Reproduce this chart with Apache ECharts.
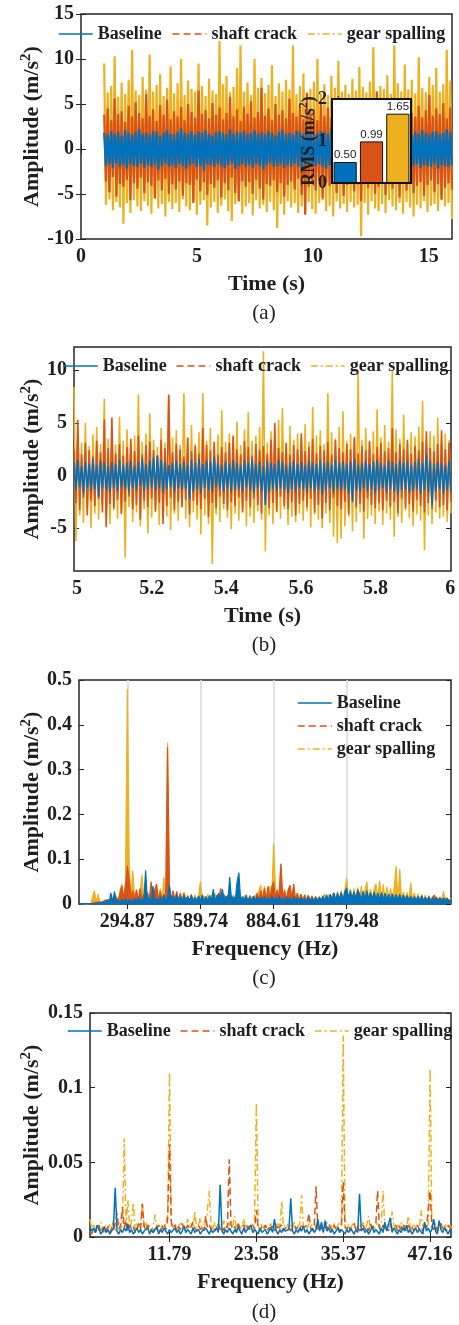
<!DOCTYPE html>
<html><head><meta charset="utf-8">
<script src="https://cdn.jsdelivr.net/npm/echarts/dist/echarts.min.js"></script>
<style>html,body{margin:0;padding:0;background:#fff}#c{width:459px;height:1325px}</style>
</head><body><div id="c"></div>
<script>
const seriesNames = ['Baseline', 'shaft crack', 'gear spalling'];
const colors = ['#0072BD', '#D95319', '#EDB120'];

// ---------- (a) time signal, 1..16 s : upper / lower excursions ----------
const aTimeRange = [1, 16];
const aXTicks = [0, 5, 10, 15];
const aBlueHi = [1.8,1.6,2.0,1.7,1.9,1.5,2.1,1.8,1.6,1.9, 2.2,1.7,1.8,1.6,2.0,1.9,1.5,1.8,2.1,1.7, 1.6,1.9,2.3,1.8,1.7,2.0,1.6,1.9,1.8,2.1, 1.7,1.5,1.9,2.0,1.8,1.6,2.2,1.7,1.9,1.8, 2.0,1.6,1.8,2.1,1.7,1.9,1.6,2.0,1.8,1.5, 1.9,2.2,1.7,1.8,1.6,2.0,1.9,1.7,2.1,1.8, 1.6,1.8,2.0,1.9,1.7,2.3,1.8,1.6,1.9,2.0, 1.8,1.7,1.5,2.0,1.9,1.8,2.1,1.6,1.7,1.9, 2.0,1.8,1.6,1.9,2.2,1.7,1.8,2.0,1.6,1.9, 1.7,2.1,1.8,1.6,1.9,2.0,1.7,1.8,2.2,1.9];
const aBlueLo = [-1.9,-1.7,-2.1,-1.6,-2.0,-1.8,-2.2,-1.7,-1.9,-2.0, -1.6,-2.1,-1.8,-2.0,-1.7,-2.3,-1.9,-1.6,-2.0,-1.8, -2.1,-1.7,-1.9,-2.2,-1.8,-1.6,-2.0,-1.9,-2.4,-1.7, -1.8,-2.0,-1.7,-1.9,-2.1,-1.8,-1.6,-2.2,-1.9,-1.7, -2.0,-1.8,-2.1,-1.7,-1.9,-2.3,-1.8,-1.6,-2.0,-1.9, -1.7,-2.1,-1.8,-2.0,-1.6,-1.9,-2.2,-1.8,-1.7,-2.0, -1.9,-1.7,-2.0,-2.2,-1.8,-1.6,-2.1,-1.9,-1.8,-2.3, -2.0,-1.8,-1.7,-1.9,-2.1,-1.8,-2.0,-1.6,-1.9,-2.2, -1.8,-2.0,-1.9,-1.7,-2.1,-1.8,-1.6,-2.0,-1.9,-1.7, -2.1,-1.8,-1.9,-2.0,-1.7,-2.2,-1.8,-1.9,-2.0,-1.8];
const aRedHi = [3.8,4.5,3.2,5.6,3.9,4.2,3.0,4.8,3.6,5.2, 4.0,3.4,6.1,3.7,4.4,3.1,4.9,3.8,5.5,3.3, 4.2,3.6,4.7,3.2,5.0,4.1,3.5,6.5,3.9,4.3, 3.4,5.1,3.8,4.6,3.3,4.0,5.8,3.6,4.4,3.1, 4.7,3.9,5.3,3.5,4.1,6.8,3.7,4.5,3.2,5.0, 3.8,4.3,3.4,5.6,4.0,3.6,4.8,3.3,6.2,3.9, 4.4,3.2,5.1,3.7,4.6,3.5,4.2,5.9,3.8,4.1, 3.3,4.9,3.6,4.3,5.4,3.4,4.0,3.7,6.4,4.2, 3.9,4.6,3.1,5.2,3.8,4.4,3.5,5.7,4.0,3.6, 4.8,3.5,4.3,6.0,3.7,4.5,3.9,5.1,3.4,4.6];
const aRedLo = [-3.6,-4.8,-3.1,-5.3,-3.9,-4.2,-3.4,-5.7,-3.8,-4.4, -3.2,-4.9,-3.7,-4.1,-5.5,-3.5,-4.6,-3.3,-5.0,-3.9, -4.5,-3.6,-5.2,-3.8,-4.0,-6.0,-3.4,-4.7,-3.7,-5.1, -3.9,-4.3,-3.5,-5.4,-3.8,-4.6,-3.2,-4.9,-5.8,-3.6, -4.2,-3.7,-5.0,-3.4,-4.4,-5.6,-3.9,-4.1,-3.5,-4.8, -3.8,-5.3,-4.0,-3.6,-4.5,-3.3,-5.1,-7.3,-4.2,-3.9, -4.6,-3.5,-5.5,-3.8,-4.1,-3.4,-4.9,-3.7,-5.2,-4.0, -3.6,-4.7,-3.9,-5.8,-3.5,-4.3,-3.8,-5.0,-4.2,-3.4, -5.1,-3.9,-4.4,-3.6,-5.4,-3.8,-4.6,-3.3,-4.9,-4.1, -3.7,-5.2,-4.0,-3.5,-4.8,-3.9,-5.6,-4.3,-3.8,-4.5];
const aGoldHi = [9.5,6.3,7.0,10.3,5.8,7.4,6.1,7.7,11.0,6.5, 6.0,8.0,6.6,10.5,6.4,7.1,8.3,5.9,6.8,9.2, 6.2,7.3,10.0,6.0,7.6,6.7,6.4,9.5,7.0,5.9, 7.8,6.5,6.1,12.0,7.2,8.1,6.3,6.9,9.0,11.5, 6.4,7.4,6.0,10.0,6.8,7.9,6.2,7.1,9.3,5.9, 7.3,6.4,7.7,6.6,11.5,6.1,7.0,8.4,6.3,6.7, 7.5,10.0,6.2,7.2,6.0,8.1,6.8,9.8,6.4,7.1, 6.1,7.8,6.5,9.1,6.9,6.3,7.5,11.3,6.4,7.0, 6.7,8.2,6.1,11.5,7.3,6.4,9.4,6.6,7.7,6.2, 10.2,6.8,6.3,8.0,7.1,9.0,6.4,7.2,11.0,7.6];
const aGoldLo = [-6.2,-5.6,-6.8,-5.9,-6.5,-8.3,-6.0,-7.1,-5.7,-6.4, -6.9,-5.8,-6.3,-7.2,-5.5,-6.6,-6.1,-7.5,-5.9,-6.7, -6.0,-7.0,-5.6,-6.4,-6.8,-5.8,-7.3,-6.2,-5.7,-8.5, -6.5,-5.9,-7.1,-6.3,-5.6,-6.9,-8.0,-6.1,-5.8,-7.2, -6.4,-6.0,-7.4,-5.7,-6.6,-6.2,-7.0,-5.9,-6.8,-8.8, -6.1,-7.3,-5.8,-6.5,-6.0,-7.1,-6.4,-7.0,-5.9,-6.7, -7.2,-6.0,-5.7,-6.9,-6.3,-7.5,-5.8,-6.6,-6.1,-7.0, -5.9,-6.5,-6.2,-9.7,-6.0,-7.3,-5.8,-6.6,-6.9,-6.1, -7.1,-5.7,-6.4,-6.8,-6.0,-7.2,-5.9,-6.5,-7.5,-6.2, -6.6,-5.8,-7.0,-6.3,-6.1,-6.9,-5.7,-6.4,-6.0,-7.8];
const rmsValues = [0.50, 0.99, 1.65];

// ---------- (b) zoom 5..6 s ----------
const bTimeRange = [4.992, 6.002];
const bXTicks = [5, 5.2, 5.4, 5.6, 5.8, 6];
const bYTicks = [-5, 0, 5, 10];
const bBlueHi = [1.2,1.5,0.9,1.3,1.1,1.6,1.0,1.4,1.2,0.9, 1.3,1.1,1.5,1.0,1.2,1.4,0.9,1.3,1.6,1.1, 1.4,1.7,1.9,1.5,1.3,1.0,1.2,1.4,1.1,1.3, 1.0,1.5,1.2,1.6,1.1,1.4,1.3,1.8,1.2,1.0, 1.3,1.1,1.5,1.2,1.0,1.4,1.2,1.6,1.1,1.3, 0.9,1.4,1.2,1.1,1.5,1.3,1.0,1.2,1.4,1.1, 1.3,1.0,1.5,1.2,1.1,1.4,1.2,1.3,1.0,1.5, 1.2,1.4,1.1,1.3,1.6,1.0,1.2,1.4,1.1,1.3, 1.5,1.2,1.0,1.4,1.3,1.1,1.5,1.2,1.4,1.0, 1.3,1.6,1.2,2.0,1.4,1.1,1.3,1.2,1.0,1.4];
const bBlueLo = [-1.4,-1.1,-1.7,-1.2,-1.5,-1.3,-2.0,-1.2,-1.4,-1.6, -1.2,-1.5,-1.1,-1.3,-1.6,-1.2,-1.4,-1.0,-1.5,-1.3, -1.1,-1.4,-1.2,-1.6,-1.3,-1.1,-1.5,-1.2,-1.4,-1.3, -2.2,-1.5,-1.3,-1.7,-1.2,-1.4,-1.6,-1.1,-1.3,-1.5, -1.2,-1.6,-1.4,-1.3,-1.5,-1.1,-1.4,-1.7,-1.2,-1.5, -2.8,-1.6,-1.3,-1.5,-1.2,-1.4,-1.7,-1.3,-1.5,-1.2, -1.4,-1.6,-1.2,-1.5,-1.3,-1.8,-1.4,-1.2,-1.6,-1.3, -1.5,-1.3,-1.7,-2.5,-1.4,-1.6,-1.2,-1.5,-1.3,-1.7, -1.4,-1.2,-1.6,-1.3,-1.5,-1.8,-1.4,-1.3,-1.6,-1.5, -1.3,-1.7,-1.4,-1.6,-2.8,-1.5,-1.3,-1.7,-1.4,-1.6];
const bRedHi = [2.5,5.3,2.0,3.1,2.4,1.8,3.3,2.2,5.3,2.6, 5.5,2.1,3.0,1.9,2.7,3.5,2.3,3.8,2.0,2.9, 3.2,2.4,1.9,3.4,2.6,7.7,2.2,3.0,2.5,1.8, 3.6,2.3,2.8,2.1,4.5,2.9,2.4,3.2,2.0,2.7, 2.2,3.1,3.8,2.5,2.0,3.3,2.7,1.9,3.0,2.4, 2.8,2.1,3.4,5.0,2.6,2.2,3.1,2.0,2.9,2.5, 4.0,2.3,2.7,3.5,2.1,2.8,2.4,3.2,2.0,3.4, 2.6,2.2,3.0,2.5,3.6,2.1,2.8,2.4,3.3,2.0, 2.7,3.1,2.3,2.6,4.5,2.2,3.0,2.5,3.4,2.1, 2.8,2.4,3.2,4.2,2.6,2.3,3.0,4.3,2.5,3.1];
const bRedLo = [-2.6,-3.3,-2.1,-3.8,-2.4,-2.9,-2.2,-3.5,-4.9,-2.7, -3.1,-2.3,-3.6,-2.5,-2.0,-3.2,-2.8,-4.2,-2.4,-3.0, -2.2,-3.4,-2.6,-4.6,-2.9,-2.1,-3.3,-2.5,-3.0,-2.3, -3.7,-2.4,-2.8,-3.2,-2.2,-3.9,-2.6,-3.1,-2.0,-2.7, -3.3,-2.5,-2.9,-2.1,-3.5,-2.4,-3.0,-2.2,-2.8,-3.6, -2.3,-3.1,-2.6,-3.4,-2.0,-2.9,-3.2,-2.5,-3.8,-2.7, -2.4,-3.0,-2.2,-3.5,-2.8,-4.1,-2.6,-3.3,-2.1,-2.9, -3.2,-2.5,-3.7,-2.3,-3.0,-2.7,-3.4,-2.2,-2.8,-3.1, -2.6,-3.3,-2.4,-3.0,-2.5,-3.6,-2.2,-3.1,-2.7,-3.4, -2.3,-2.9,-3.5,-2.6,-3.2,-2.4,-3.0,-2.8,-3.3,-2.5];
const bGoldHi = [8.4,4.2,3.1,5.0,2.8,3.9,4.6,3.0,7.3,3.5, 4.1,2.9,5.6,3.3,4.4,3.0,3.8,7.7,3.2,4.0, 5.9,3.4,2.7,4.5,3.1,7.6,3.6,4.3,2.9,7.8, 3.5,4.8,3.0,4.1,7.8,3.3,4.5,2.8,3.9,6.2, 3.2,4.0,3.6,5.1,2.9,4.4,6.0,3.3,3.8,4.6, 11.8,3.1,4.2,3.5,5.3,6.4,3.0,4.7,3.4,4.0, 3.6,4.9,3.2,6.5,3.8,4.3,3.0,7.8,4.1,3.5, 4.6,6.1,3.3,4.0,3.7,9.8,3.4,4.5,3.1,4.2, 6.3,3.6,4.8,3.2,9.9,4.4,3.5,5.8,3.0,4.1, 3.7,4.6,7.1,3.3,4.2,3.8,5.5,3.1,4.0,3.4];
const bGoldLo = [-6.2,-3.8,-4.5,-3.1,-5.0,-3.6,-4.2,-2.9,-3.9,-4.6, -3.3,-4.1,-3.7,-7.8,-3.0,-4.4,-3.5,-4.8,-3.2,-5.5, -4.0,-3.4,-4.7,-3.1,-3.9,-5.2,-3.6,-4.3,-3.0,-4.1, -4.9,-3.5,-4.2,-5.6,-3.8,-4.6,-8.4,-3.7,-4.4,-3.2, -4.0,-5.1,-3.6,-4.3,-3.3,-4.8,-3.9,-4.5,-3.4,-4.2, -7.2,-3.8,-4.6,-3.5,-4.1,-3.2,-4.7,-3.9,-4.4,-3.6, -4.3,-3.4,-4.9,-3.7,-4.2,-5.0,-3.6,-4.5,-5.8,-6.4, -6.0,-4.8,-3.9,-5.3,-4.4,-3.5,-6.0,-4.1,-3.8,-4.6, -3.4,-4.7,-3.6,-4.2,-5.8,-3.9,-4.5,-3.3,-4.0,-4.8, -3.7,-4.3,-7.1,-3.8,-4.6,-3.5,-4.1,-3.9,-4.4,-3.6];

// ---------- (c) spectrum 100..1600 Hz, bins of 294.87/40 Hz from bin 14 ----------
const cXTicks = [294.87, 589.74, 884.61, 1179.48];
const cBinHz = 294.87 / 40, cFirstBin = 14;
const cBlue = [0.001,0.001,0.001,0.001,0.001,0.001,0.001,0.001,0.001,0.001, 0.002,0.001,0.003,0.001,0.004,0.010,0.002,0.025,0.004,0.028, 0.004,0.009,0.003,0.011,0.004,0.012,0.004,0.010,0.014,0.005, 0.012,0.004,0.015,0.005,0.012,0.006,0.075,0.006,0.014,0.005, 0.040,0.006,0.012,0.005,0.016,0.006,0.020,0.005,0.015,0.042, 0.008,0.018,0.006,0.022,0.007,0.016,0.006,0.019,0.007,0.017, 0.006,0.020,0.007,0.015,0.006,0.018,0.007,0.021,0.006,0.016, 0.007,0.019,0.006,0.033,0.007,0.015,0.024,0.007,0.033,0.008, 0.018,0.007,0.060,0.008,0.016,0.007,0.048,0.070,0.008,0.017, 0.007,0.020,0.006,0.014,0.007,0.018,0.006,0.016,0.007,0.015, 0.006,0.017,0.007,0.014,0.006,0.019,0.007,0.015,0.006,0.018, 0.007,0.013,0.006,0.017,0.007,0.014,0.006,0.016,0.007,0.013, 0.006,0.015,0.007,0.012,0.006,0.016,0.007,0.013,0.006,0.014, 0.007,0.015,0.008,0.018,0.007,0.020,0.008,0.022,0.009,0.025, 0.009,0.024,0.010,0.026,0.009,0.028,0.036,0.010,0.030,0.011, 0.028,0.010,0.032,0.033,0.010,0.029,0.011,0.030,0.010,0.026, 0.010,0.027,0.009,0.025,0.010,0.026,0.009,0.024,0.010,0.022, 0.009,0.023,0.008,0.021,0.009,0.022,0.008,0.020,0.008,0.019, 0.008,0.018,0.007,0.016,0.008,0.017,0.007,0.019,0.007,0.015, 0.007,0.016,0.006,0.014,0.007,0.015,0.006,0.014,0.006,0.013, 0.006,0.013,0.005,0.010];
const cRed = [0.000,0.000,0.000,0.000,0.000,0.000,0.000,0.001,0.003,0.001, 0.004,0.002,0.005,0.002,0.008,0.003,0.010,0.004,0.012,0.005, 0.014,0.006,0.025,0.040,0.012,0.042,0.085,0.055,0.015,0.030, 0.010,0.032,0.009,0.035,0.010,0.022,0.008,0.026,0.009,0.050, 0.009,0.032,0.045,0.009,0.028,0.010,0.022,0.009,0.350,0.038, 0.010,0.030,0.009,0.028,0.008,0.025,0.008,0.024,0.007,0.016, 0.007,0.018,0.006,0.015,0.007,0.017,0.006,0.014,0.007,0.016, 0.006,0.015,0.007,0.022,0.006,0.020,0.007,0.035,0.006,0.021, 0.007,0.020,0.006,0.018,0.007,0.016,0.006,0.014,0.007,0.015, 0.006,0.013,0.007,0.019,0.006,0.017,0.007,0.025,0.008,0.030, 0.009,0.035,0.010,0.040,0.009,0.038,0.050,0.012,0.032,0.010, 0.090,0.012,0.030,0.009,0.032,0.042,0.010,0.045,0.009,0.024, 0.008,0.022,0.007,0.020,0.008,0.019,0.007,0.018,0.007,0.017, 0.007,0.016,0.006,0.015,0.007,0.016,0.006,0.017,0.007,0.022, 0.007,0.021,0.008,0.019,0.007,0.020,0.008,0.022,0.007,0.021, 0.008,0.020,0.007,0.026,0.008,0.025,0.007,0.024,0.008,0.023, 0.007,0.024,0.008,0.022,0.007,0.023,0.008,0.021,0.007,0.022, 0.007,0.020,0.006,0.021,0.007,0.016,0.006,0.018,0.006,0.019, 0.006,0.018,0.006,0.017,0.005,0.016,0.006,0.013,0.005,0.015, 0.005,0.016,0.005,0.015,0.020,0.005,0.012,0.005,0.013,0.005, 0.014,0.005,0.010,0.004];
const cGold = [0.000,0.000,0.000,0.000,0.000,0.000,0.001,0.004,0.030,0.003, 0.022,0.004,0.008,0.003,0.010,0.003,0.012,0.004,0.014,0.004, 0.018,0.006,0.030,0.045,0.010,0.048,0.480,0.098,0.012,0.075, 0.012,0.030,0.010,0.026,0.065,0.010,0.024,0.009,0.022,0.009, 0.026,0.009,0.024,0.009,0.035,0.009,0.060,0.010,0.360,0.040, 0.009,0.021,0.008,0.019,0.008,0.017,0.008,0.026,0.008,0.021, 0.007,0.022,0.007,0.021,0.008,0.019,0.050,0.008,0.018,0.007, 0.022,0.007,0.021,0.007,0.023,0.007,0.020,0.007,0.018,0.007, 0.017,0.007,0.016,0.007,0.021,0.006,0.018,0.007,0.017,0.006, 0.019,0.006,0.014,0.006,0.016,0.007,0.021,0.008,0.030,0.042, 0.010,0.040,0.011,0.032,0.038,0.011,0.135,0.037,0.010,0.029, 0.090,0.010,0.033,0.009,0.030,0.009,0.029,0.035,0.009,0.024, 0.008,0.022,0.008,0.021,0.008,0.019,0.007,0.018,0.007,0.017, 0.007,0.016,0.007,0.017,0.022,0.007,0.021,0.008,0.020,0.026, 0.008,0.028,0.009,0.030,0.009,0.031,0.058,0.010,0.033,0.010, 0.035,0.010,0.037,0.011,0.040,0.011,0.031,0.050,0.011,0.033, 0.011,0.034,0.045,0.011,0.052,0.011,0.044,0.010,0.038,0.010, 0.035,0.010,0.037,0.085,0.010,0.078,0.009,0.027,0.009,0.026, 0.009,0.048,0.008,0.025,0.008,0.023,0.008,0.021,0.008,0.020, 0.007,0.019,0.007,0.018,0.007,0.017,0.007,0.016,0.007,0.028, 0.006,0.014,0.006,0.013];

// ---------- (d) low-frequency spectrum 1..50 Hz, bins of 11.79/48 Hz from bin 4 ----------
const dXTicks = [11.79, 23.58, 35.37, 47.16];
const dBinHz = 11.79 / 48, dFirstBin = 4;
const dBlue = [0.007,0.004,0.006,0.003,0.008,0.005,0.002,0.004,0.007,0.003, 0.005,0.002,0.004,0.006,0.033,0.004,0.002,0.005,0.003,0.006, 0.004,0.009,0.003,0.005,0.002,0.004,0.006,0.003,0.005,0.002, 0.004,0.003,0.006,0.002,0.005,0.003,0.004,0.007,0.002,0.005, 0.003,0.006,0.004,0.002,0.005,0.003,0.004,0.006,0.003,0.005, 0.002,0.004,0.007,0.003,0.005,0.004,0.002,0.006,0.003,0.004, 0.005,0.002,0.004,0.003,0.006,0.004,0.002,0.005,0.003,0.004, 0.006,0.003,0.035,0.004,0.002,0.005,0.003,0.006,0.004,0.002, 0.005,0.003,0.007,0.004,0.002,0.006,0.003,0.005,0.004,0.008, 0.003,0.005,0.004,0.002,0.006,0.003,0.004,0.005,0.002,0.004, 0.006,0.003,0.012,0.004,0.002,0.005,0.003,0.006,0.004,0.003, 0.005,0.026,0.004,0.002,0.005,0.003,0.006,0.004,0.007,0.003, 0.005,0.002,0.004,0.006,0.003,0.005,0.012,0.004,0.010,0.003, 0.011,0.004,0.006,0.003,0.005,0.002,0.004,0.006,0.003,0.005, 0.004,0.002,0.005,0.003,0.006,0.004,0.002,0.005,0.003,0.029, 0.004,0.006,0.003,0.005,0.002,0.004,0.007,0.003,0.005,0.004, 0.002,0.006,0.003,0.010,0.004,0.005,0.013,0.003,0.006,0.004, 0.002,0.005,0.003,0.006,0.004,0.008,0.003,0.005,0.002,0.004, 0.006,0.003,0.005,0.004,0.002,0.010,0.004,0.006,0.003,0.005, 0.012,0.004,0.002,0.011,0.005,0.003,0.006,0.004,0.002,0.005, 0.003];
const dRed = [0.004,0.002,0.006,0.003,0.005,0.008,0.003,0.006,0.002,0.005, 0.007,0.003,0.006,0.004,0.009,0.016,0.005,0.008,0.020,0.006, 0.011,0.004,0.008,0.005,0.007,0.003,0.006,0.009,0.005,0.022, 0.007,0.004,0.008,0.005,0.006,0.003,0.007,0.005,0.008,0.004, 0.006,0.009,0.005,0.012,0.062,0.010,0.006,0.008,0.004,0.007, 0.005,0.009,0.006,0.004,0.008,0.005,0.007,0.010,0.006,0.004, 0.008,0.005,0.007,0.004,0.014,0.006,0.008,0.005,0.007,0.004, 0.006,0.009,0.005,0.007,0.004,0.008,0.006,0.052,0.008,0.005, 0.007,0.004,0.009,0.006,0.005,0.008,0.004,0.007,0.005,0.006, 0.008,0.005,0.018,0.006,0.004,0.007,0.005,0.008,0.004,0.006, 0.005,0.007,0.004,0.009,0.006,0.005,0.008,0.004,0.006,0.005, 0.007,0.004,0.006,0.008,0.005,0.007,0.004,0.009,0.006,0.005, 0.008,0.016,0.006,0.004,0.007,0.034,0.005,0.008,0.006,0.004, 0.007,0.005,0.009,0.006,0.004,0.008,0.005,0.007,0.004,0.006, 0.037,0.007,0.005,0.008,0.004,0.006,0.009,0.005,0.007,0.004, 0.006,0.008,0.005,0.007,0.004,0.009,0.006,0.005,0.008,0.031, 0.006,0.004,0.008,0.005,0.007,0.004,0.009,0.006,0.005,0.008, 0.004,0.007,0.005,0.009,0.006,0.004,0.008,0.005,0.007,0.004, 0.006,0.008,0.005,0.007,0.004,0.009,0.006,0.005,0.031,0.007, 0.005,0.008,0.004,0.006,0.009,0.005,0.007,0.004,0.008,0.006, 0.005];
const dGold = [0.012,0.006,0.009,0.004,0.008,0.005,0.010,0.006,0.004,0.008, 0.005,0.009,0.006,0.011,0.004,0.007,0.010,0.005,0.008,0.066, 0.007,0.025,0.006,0.010,0.023,0.005,0.009,0.006,0.008,0.023, 0.006,0.010,0.005,0.008,0.004,0.007,0.015,0.006,0.009,0.005, 0.008,0.006,0.010,0.015,0.110,0.008,0.006,0.009,0.005,0.007, 0.010,0.006,0.008,0.005,0.012,0.007,0.009,0.005,0.017,0.006, 0.008,0.013,0.005,0.009,0.007,0.006,0.031,0.008,0.005,0.010, 0.006,0.009,0.007,0.005,0.011,0.008,0.006,0.010,0.005,0.008, 0.014,0.006,0.009,0.005,0.008,0.012,0.006,0.009,0.005,0.007, 0.006,0.010,0.090,0.007,0.005,0.009,0.006,0.008,0.005,0.007, 0.009,0.005,0.008,0.006,0.010,0.005,0.024,0.007,0.006,0.009, 0.005,0.008,0.006,0.010,0.005,0.007,0.009,0.028,0.006,0.008, 0.005,0.009,0.007,0.006,0.010,0.005,0.008,0.006,0.009,0.005, 0.007,0.010,0.006,0.008,0.005,0.009,0.006,0.007,0.010,0.008, 0.135,0.007,0.005,0.009,0.006,0.008,0.010,0.005,0.007,0.009, 0.006,0.010,0.005,0.008,0.014,0.006,0.009,0.005,0.007,0.010, 0.006,0.008,0.031,0.007,0.005,0.009,0.006,0.017,0.008,0.005, 0.009,0.006,0.010,0.005,0.008,0.006,0.014,0.007,0.005,0.009, 0.006,0.008,0.005,0.018,0.007,0.010,0.006,0.009,0.113,0.007, 0.005,0.009,0.006,0.008,0.010,0.005,0.007,0.009,0.006,0.008, 0.006];

const captions = ['(a)', '(b)', '(c)', '(d)'];

// ---------------- build ----------------
const FF = '"Liberation Serif","Times New Roman",serif';
const TC = '#1f1f1f';

function pairsToSamples(hi, lo, range) {
  const n = hi.length * 2, dt = (range[1] - range[0]) / (n - 1), out = [];
  for (let k = 0; k < hi.length; k++) {
    out.push([range[0] + 2 * k * dt, hi[k]]);
    out.push([range[0] + (2 * k + 1) * dt, lo[k]]);
  }
  return out;
}
function binsToSpectrum(vals, binHz, firstBin) {
  return vals.map((v, j) => [(j + firstBin) * binHz, v]);
}

const grids = [
  {left: 81, top: 14, width: 371, height: 225},
  {left: 74, top: 347, width: 377, height: 224},
  {left: 79, top: 680, width: 372, height: 224},
  {left: 90, top: 1013, width: 361, height: 224},
].map(g => Object.assign(g, {show: true, borderColor: '#262626', borderWidth: 1.5, backgroundColor: 'transparent', containLabel: false}));
grids.push({left: 332, top: 99, width: 79, height: 84, show: true, borderColor: '#111', borderWidth: 2, backgroundColor: '#fff', z: 10});

const tickStyle = {inside: true, length: 5, lineStyle: {color: '#262626', width: 1}};
const lblStyle = {color: TC, fontFamily: FF, fontWeight: 'bold', fontSize: 20};
const ampName = '{n|Amplitude (m/s}{s|2}{n|)}';
const ampRich = {rich: {
  n: {fontSize: 22, fontWeight: 'bold', fontFamily: FF, color: TC},
  s: {fontSize: 15, fontWeight: 'bold', fontFamily: FF, color: TC, padding: [0, 0, 12, 0]}
}};

const panelX = [
  {min: 0, max: 16, ticks: aXTicks, name: 'Time (s)', fmt: v => String(v)},
  {min: bTimeRange[0], max: bTimeRange[1], ticks: bXTicks, name: 'Time (s)', fmt: v => String(+v.toFixed(1))},
  {min: 100, max: 1600, ticks: cXTicks, name: 'Frequency (Hz)', fmt: v => v.toFixed(2)},
  {min: 1, max: 50, ticks: dXTicks, name: 'Frequency (Hz)', fmt: v => v.toFixed(2)},
];
const panelY = [
  {min: -10, max: 15, ticks: [-10, -5, 0, 5, 10, 15], gap: 35},
  {min: -9.06, max: 12.2, ticks: bYTicks, gap: 28},
  {min: 0, max: 0.5, ticks: [0, 0.1, 0.2, 0.3, 0.4, 0.5], gap: 33},
  {min: 0, max: 0.15, ticks: [0, 0.05, 0.1, 0.15], gap: 44},
];

const xAxes = [], yAxes = [];
panelX.forEach((p, i) => {
  xAxes.push({gridIndex: i, type: 'value', min: p.min, max: p.max, position: 'bottom',
    axisLine: {show: false}, splitLine: {show: false},
    axisTick: Object.assign({customValues: p.ticks}, tickStyle),
    axisLabel: Object.assign({customValues: p.ticks, margin: 8, formatter: p.fmt}, lblStyle),
    name: p.name, nameLocation: 'middle', nameGap: 34, nameMoveOverlap: false,
    nameTextStyle: {fontFamily: FF, fontWeight: 'bold', fontSize: 22, color: TC}});
});
panelX.forEach((p, i) => {
  xAxes.push({gridIndex: i, type: 'value', min: p.min, max: p.max, position: 'top',
    axisLine: {show: false}, splitLine: {show: false},
    axisTick: Object.assign({customValues: p.ticks}, tickStyle), axisLabel: {show: false}});
});
panelY.forEach((p, i) => {
  yAxes.push({gridIndex: i, type: 'value', min: p.min, max: p.max, position: 'left',
    axisLine: {show: false}, splitLine: {show: false},
    axisTick: Object.assign({customValues: p.ticks}, tickStyle),
    axisLabel: Object.assign({customValues: p.ticks, margin: 7}, lblStyle),
    name: ampName, nameLocation: 'middle', nameGap: p.gap, nameMoveOverlap: false, nameTextStyle: ampRich});
});
panelY.forEach((p, i) => {
  yAxes.push({gridIndex: i, type: 'value', min: p.min, max: p.max, position: 'right',
    axisLine: {show: false}, splitLine: {show: false},
    axisTick: Object.assign({customValues: p.ticks}, tickStyle), axisLabel: {show: false}});
});
// inset axes
xAxes.push({gridIndex: 4, type: 'category', data: seriesNames, axisLine: {show: false}, axisTick: {show: false}, axisLabel: {show: false}, z: 11});
yAxes.push({gridIndex: 4, type: 'value', min: 0, max: 2, interval: 1, position: 'left',
  axisLine: {show: false}, splitLine: {show: false}, z: 11,
  axisTick: {inside: true, length: 3, lineStyle: {color: '#111'}},
  axisLabel: {margin: 5, color: TC, fontFamily: FF, fontWeight: 'bold', fontSize: 18},
  name: '{n|RMS (m/s}{s|2}{n|)}', nameLocation: 'middle', nameGap: 12, nameMoveOverlap: false,
  nameTextStyle: {rich: {
    n: {fontSize: 18, fontWeight: 'bold', fontFamily: FF, color: TC},
    s: {fontSize: 12, fontWeight: 'bold', fontFamily: FF, color: TC, padding: [0, 0, 10, 0]}}}});
yAxes.push({gridIndex: 4, type: 'value', min: 0, max: 2, interval: 1, position: 'right',
  axisLine: {show: false}, splitLine: {show: false}, z: 11,
  axisTick: {inside: true, length: 3, lineStyle: {color: '#111'}}, axisLabel: {show: false}});

// dash patterns: solid, dashed, dash-dot
const dashTypes = ['solid', [7, 4], [7, 3, 2, 3]];
const zOrder = [5, 4, 3];
const series = [];
function addPanel(gi, dataList, opts) {
  dataList.forEach((d, i) => {
    const s = {type: 'line', name: seriesNames[i], xAxisIndex: gi, yAxisIndex: gi, data: d,
      showSymbol: false, symbol: 'none',
      lineStyle: {color: colors[i], width: opts.width, type: opts.dashed ? dashTypes[i] : 'solid'},
      itemStyle: {color: colors[i]},
      z: zOrder[i], silent: true, clip: true, animation: false};
    if (opts.area) s.areaStyle = {color: colors[i], opacity: 1, origin: 'start'};
    series.push(s);
  });
}
addPanel(0, [pairsToSamples(aBlueHi, aBlueLo, aTimeRange), pairsToSamples(aRedHi, aRedLo, aTimeRange), pairsToSamples(aGoldHi, aGoldLo, aTimeRange)], {width: 2.2, dashed: false});
addPanel(1, [pairsToSamples(bBlueHi, bBlueLo, bTimeRange), pairsToSamples(bRedHi, bRedLo, bTimeRange), pairsToSamples(bGoldHi, bGoldLo, bTimeRange)], {width: 1.6, dashed: false});
addPanel(2, [binsToSpectrum(cBlue, cBinHz, cFirstBin), binsToSpectrum(cRed, cBinHz, cFirstBin), binsToSpectrum(cGold, cBinHz, cFirstBin)], {width: 1.2, dashed: false, area: true});
addPanel(3, [binsToSpectrum(dBlue, dBinHz, dFirstBin), binsToSpectrum(dRed, dBinHz, dFirstBin), binsToSpectrum(dGold, dBinHz, dFirstBin)], {width: 1.5, dashed: true});
// vertical grid lines in (c)
series.push({type: 'line', name: 'grid-c', xAxisIndex: 2, yAxisIndex: 2, data: [], z: 1, silent: true,
  markLine: {silent: true, symbol: 'none', animation: false, z: 1, label: {show: false},
    lineStyle: {color: '#d9d9d9', width: 1.5, type: 'solid'},
    data: cXTicks.map(v => ({xAxis: v}))}});
// inset bars
series.push({type: 'bar', name: 'RMS', xAxisIndex: 8, yAxisIndex: 8, z: 12, barCategoryGap: '12%', animation: false,
  data: rmsValues.map((v, i) => ({value: v, itemStyle: {color: colors[i]}})),
  itemStyle: {borderColor: '#111', borderWidth: 1},
  label: {show: true, position: 'top', distance: 1, formatter: p => p.value.toFixed(2),
    fontFamily: '"Liberation Sans",Arial,sans-serif', fontSize: 11.5, color: '#222'}});

const legendData = seriesNames.map((n, i) => ({name: n,
  lineStyle: {color: colors[i], width: 1.5, type: dashTypes[i], opacity: 1},
  itemStyle: {opacity: 0}}));
const legendBase = {data: legendData, itemWidth: 34, itemHeight: 14, selectedMode: false, z: 20, padding: 0,
  itemStyle: {opacity: 0},
  textStyle: {fontFamily: FF, fontWeight: 'bold', fontSize: 18, color: TC}};
const legends = [
  Object.assign({}, legendBase, {left: 58, top: 25, width: 420, orient: 'horizontal', itemGap: 10}),
  Object.assign({}, legendBase, {left: 63, top: 357, width: 420, orient: 'horizontal', itemGap: 9}),
  Object.assign({}, legendBase, {left: 297, top: 694, orient: 'vertical', itemGap: 5}),
  Object.assign({}, legendBase, {left: 67, top: 1022, width: 420, orient: 'horizontal', itemGap: 9}),
];

const captionY = [313, 645, 978, 1312];
const graphics = captions.map((t, i) => ({type: 'text', x: 264, y: captionY[i], z: 30,
  style: {text: t, font: '21px "Liberation Serif", serif', fill: TC, textAlign: 'center', textVerticalAlign: 'middle', align: 'center', verticalAlign: 'middle'}}));

const chart = echarts.init(document.getElementById('c'), null, {renderer: 'canvas'});
chart.setOption({animation: false, backgroundColor: '#fff', grid: grids, xAxis: xAxes, yAxis: yAxes,
  legend: legends, series: series, graphic: graphics});
</script></body></html>
